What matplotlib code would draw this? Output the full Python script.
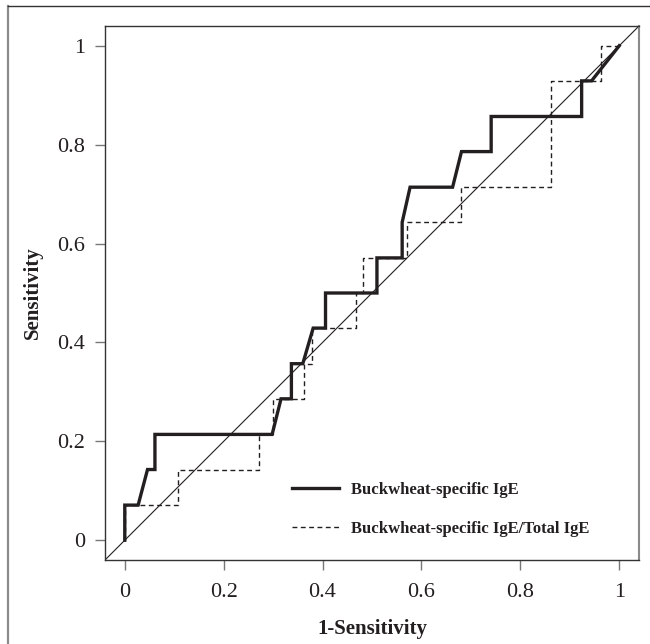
import matplotlib
matplotlib.use("Agg")
import matplotlib.pyplot as plt
from matplotlib.lines import Line2D

# ROC steps (x = 1-Sensitivity, y = Sensitivity)
sige_x = [0, 0, 0.027, 0.046, 0.061, 0.061, 0.298, 0.316, 0.337, 0.337, 0.360, 0.381,
          0.406, 0.406, 0.510, 0.510, 0.561, 0.561, 0.577, 0.663, 0.681, 0.741, 0.741,
          0.924, 0.924, 0.944, 1.0]
sige_y = [0, 0.071, 0.071, 0.143, 0.143, 0.214, 0.214, 0.286, 0.286, 0.357, 0.357, 0.429,
          0.429, 0.5, 0.5, 0.571, 0.571, 0.643, 0.714, 0.714, 0.786, 0.786, 0.857,
          0.857, 0.929, 0.929, 1.0]

ratio_x = [0, 0, 0.107, 0.107, 0.272, 0.272, 0.300, 0.300, 0.362, 0.362, 0.379, 0.379,
           0.468, 0.468, 0.481, 0.481, 0.570, 0.570, 0.679, 0.679, 0.862, 0.862, 0.964,
           0.964, 1.0]
ratio_y = [0, 0.071, 0.071, 0.143, 0.143, 0.214, 0.214, 0.286, 0.286, 0.357, 0.357, 0.429,
           0.429, 0.5, 0.5, 0.571, 0.571, 0.643, 0.643, 0.714, 0.714, 0.929, 0.929,
           1.0, 1.0]

labels = ['Buckwheat-specific IgE', 'Buckwheat-specific IgE/Total IgE']
ticks = [0, 0.2, 0.4, 0.6, 0.8, 1]
tick_labels = ['0', '0.2', '0.4', '0.6', '0.8', '1']

plt.rcParams['font.family'] = ['Liberation Serif', 'DejaVu Serif']
ink = '#231f20'

fig = plt.figure(figsize=(6.5, 6.44), dpi=100)
ax = fig.add_axes([105 / 650, 84 / 644, 534 / 650, 534 / 644])

ax.axline((0, 0), slope=1, color=ink, lw=0.8)
ax.plot(sige_x, sige_y, color=ink, lw=2.4, label=labels[0], solid_joinstyle='miter')
ax.plot(ratio_x, ratio_y, color=ink, lw=1.0, ls=(0, (3.5, 2.5)), label=labels[1])

ax.set_xlim(-0.04, 1.04)
ax.set_ylim(-0.04, 1.04)
ax.set_xticks(ticks)
ax.set_xticklabels(tick_labels)
ax.set_yticks(ticks)
ax.set_yticklabels(tick_labels)
ax.tick_params(direction='out', length=7.5, width=1, color='#777777', pad=7,
               labelsize=16, labelcolor=ink)
ax.tick_params(axis='x', pad=9)

for side in ['left', 'bottom', 'top']:
    ax.spines[side].set_color('#333333')
    ax.spines[side].set_linewidth(1.0)
ax.spines['right'].set_color('#8a8a8a')
ax.spines['right'].set_linewidth(1.5)

ax.set_xlabel('1-Sensitivity', fontsize=15, fontweight='bold', color=ink, labelpad=12)
ax.set_ylabel('Sensitivity', fontsize=15, fontweight='bold', color=ink, labelpad=10)

leg = ax.legend(loc='upper left', bbox_to_anchor=(0.35, 0.147), frameon=False,
                fontsize=12, handlelength=2.8, handletextpad=0.75, labelspacing=1.4,
                borderpad=0, borderaxespad=0)
for t in leg.get_texts():
    t.set_fontweight('bold')
    t.set_color(ink)

# outer frame (left and top edges only)
fig.add_artist(Line2D([8 / 650, 8 / 650], [0, 1 - 6 / 644], transform=fig.transFigure,
                      color='#8a8a8a', lw=1.6))
fig.add_artist(Line2D([8 / 650, 1], [1 - 6 / 644, 1 - 6 / 644], transform=fig.transFigure,
                      color='#333333', lw=1.0))

fig.savefig('out.png', dpi=100)
